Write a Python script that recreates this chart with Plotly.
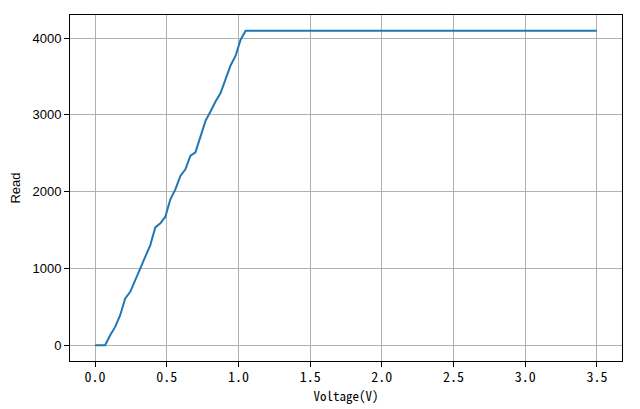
import plotly.graph_objects as go

voltage = [0.0, 0.035, 0.07, 0.105, 0.14, 0.175, 0.21, 0.245, 0.28, 0.315, 0.35,
           0.385, 0.42, 0.455, 0.49, 0.525, 0.56, 0.595, 0.63, 0.665, 0.70,
           0.735, 0.77, 0.805, 0.84, 0.875, 0.91, 0.945, 0.98, 1.015, 1.05, 3.5]
read = [0, 0, 0, 130, 239, 391, 609, 696, 848, 978, 1130,
        1304, 1535, 1587, 1674, 1900, 2030, 2204, 2291, 2470, 2513,
        2717, 2922, 3043, 3174, 3283, 3457, 3643, 3770, 3978, 4095, 4095]

x_ticks = [0.0, 0.5, 1.0, 1.5, 2.0, 2.5, 3.0, 3.5]
x_tick_labels = ["0.0", "0.5", "1.0", "1.5", "2.0", "2.5", "3.0", "3.5"]
y_ticks = [0, 1000, 2000, 3000, 4000]

mono = "Noto Sans Mono CJK SC, Noto Sans CJK SC, DejaVu Sans Mono, monospace"
sans = "Liberation Sans, Arial, sans-serif"

fig = go.Figure()
fig.add_trace(go.Scatter(x=voltage, y=read, mode="lines",
                         line=dict(color="#1f77b4", width=2), showlegend=False))

fig.update_layout(
    width=640, height=409,
    margin=dict(l=62, r=26, t=7, b=56),
    paper_bgcolor="white", plot_bgcolor="white",
)
fig.update_xaxes(
    range=[-0.175, 3.675], tickvals=x_ticks, ticktext=x_tick_labels,
    showgrid=True, gridcolor="#b0b0b0", gridwidth=1,
    showline=True, linecolor="black", linewidth=1, mirror=True,
    ticks="outside", ticklen=5, tickcolor="black", tickwidth=1,
    tickfont=dict(family=mono, size=14, color="black"),
    ticklabelstandoff=-2,
    title=dict(text="Voltage(V)", font=dict(family=mono, size=13, color="black"), standoff=7),
    zeroline=False, automargin=False,
)
fig.update_yaxes(
    range=[-204.75, 4299.75], tickvals=y_ticks,
    showgrid=True, gridcolor="#b0b0b0", gridwidth=1,
    showline=True, linecolor="black", linewidth=1, mirror=True,
    ticks="outside", ticklen=5, tickcolor="black", tickwidth=1,
    tickfont=dict(family=sans, size=13, color="black"),
    title=dict(text="Read", font=dict(family=sans, size=13, color="black"), standoff=9),
    zeroline=False, automargin=False,
)

fig.write_html("out.html")
